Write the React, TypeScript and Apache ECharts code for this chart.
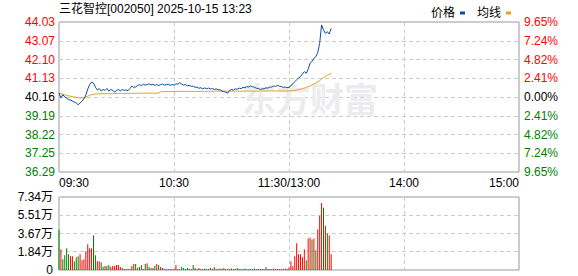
import React, { useEffect, useRef } from "react";
import * as echarts from "echarts";

const titleText = "三花智控[002050] 2025-10-15 13:23";
const seriesNames = ["价格", "均线"];
const timeLabels = ["09:30", "10:30", "11:30/13:00", "14:00", "15:00"];
const priceLabels = ["36.29", "37.25", "38.22", "39.19", "40.16", "41.13", "42.10", "43.07", "44.03"];
const pctLabels = ["9.65%", "7.24%", "4.82%", "2.41%", "0.00%", "2.41%", "4.82%", "7.24%", "9.65%"];
const volLabels = ["0", "1.84万", "3.67万", "5.51万", "7.34万"];
const priceMin = 36.29;
const priceMax = 44.03;
const volMax = 7.34;
const totalMinutes = 240;

const price = [
  40.37, 40.11, 40.28, 40.16, 40.11, 40.01, 40.01, 39.95, 39.9, 39.85,
  39.76, 39.85, 39.95, 40.06, 40.26, 40.57, 40.8, 40.93, 40.88, 40.67,
  40.52, 40.6, 40.47, 40.55, 40.5, 40.6, 40.47, 40.55, 40.5, 40.42,
  40.5, 40.55, 40.48, 40.55, 40.5, 40.53, 40.48, 40.6, 40.72, 40.66,
  40.68, 40.75, 40.8, 40.74, 40.82, 40.77, 40.8, 40.84, 40.78, 40.82,
  40.76, 40.8, 40.75, 40.8, 40.83, 40.77, 40.8, 40.82, 40.76, 40.8,
  40.78, 40.84, 40.82, 40.9, 40.83, 40.77, 40.8, 40.74, 40.76, 40.71,
  40.72, 40.66, 40.67, 40.61, 40.64, 40.58, 40.63, 40.59, 40.62, 40.57,
  40.6, 40.55, 40.58, 40.53, 40.54, 40.47, 40.44, 40.4, 40.36, 40.5,
  40.55, 40.52, 40.58, 40.56, 40.62, 40.59, 40.66, 40.64, 40.7, 40.68,
  40.73, 40.69, 40.66, 40.61, 40.6, 40.55, 40.58, 40.59, 40.63, 40.62,
  40.68, 40.67, 40.73, 40.71, 40.76, 40.72, 40.7, 40.65, 40.68, 40.64,
  40.66, 40.73, 40.85, 40.95, 41.05, 41.15, 41.21, 41.35, 41.47, 41.38,
  41.6, 41.9, 42.0, 42.16, 42.24, 42.45, 42.93, 43.88, 43.62, 43.45,
  43.53, 43.41, 43.7,
];

const avgPrice = [
  40.37, 40.33, 40.3, 40.27, 40.25, 40.22, 40.2, 40.18, 40.16, 40.14,
  40.12, 40.11, 40.11, 40.12, 40.15, 40.2, 40.25, 40.28, 40.3, 40.31,
  40.32, 40.32, 40.33, 40.33, 40.33, 40.33, 40.33, 40.34, 40.34, 40.34,
  40.34, 40.34, 40.34, 40.34, 40.35, 40.35, 40.35, 40.35, 40.35, 40.35,
  40.35, 40.35, 40.36, 40.36, 40.36, 40.36, 40.36, 40.36, 40.36, 40.36,
  40.36, 40.36, 40.37, 40.42, 40.44, 40.44, 40.44, 40.44, 40.44, 40.44,
  40.44, 40.44, 40.45, 40.45, 40.45, 40.45, 40.45, 40.45, 40.45, 40.45,
  40.45, 40.45, 40.45, 40.45, 40.45, 40.45, 40.45, 40.45, 40.45, 40.45,
  40.46, 40.46, 40.46, 40.46, 40.46, 40.46, 40.46, 40.46, 40.46, 40.46,
  40.46, 40.46, 40.46, 40.46, 40.46, 40.46, 40.46, 40.46, 40.46, 40.46,
  40.46, 40.46, 40.46, 40.46, 40.46, 40.46, 40.47, 40.47, 40.47, 40.47,
  40.47, 40.47, 40.47, 40.47, 40.47, 40.47, 40.47, 40.47, 40.47, 40.47,
  40.47, 40.48, 40.49, 40.5, 40.52, 40.54, 40.56, 40.59, 40.62, 40.65,
  40.69, 40.73, 40.78, 40.83, 40.88, 40.94, 41.01, 41.09, 41.16, 41.22,
  41.28, 41.33, 41.38,
];

// volume in 万 (10k lots)
const volume = [
  4.07, 2.08, 1.09, 1.49, 2.18, 1.59, 1.39, 1.39, 0.89, 1.29,
  1.39, 1.59, 0.99, 1.09, 1.88, 2.58, 2.18, 2.18, 3.47, 1.49,
  0.89, 0.89, 0.79, 0.33, 0.4, 0.4, 0.5, 0.33, 0.4, 0.4,
  0.5, 0.5, 0.3, 0.2, 0.1, 0.1, 0.1, 0.1, 0.4, 0.6,
  0.6, 0.2, 0.3, 0.5, 0.1, 0.6, 0.69, 0.3, 0.2, 0.2,
  0.4, 0.6, 0.5, 0.3, 0.2, 0.1, 0.1, 0.1, 0.1, 0.1,
  0.1, 0.5, 0.1, 0.1, 0.3, 0.2, 0.1, 0.2, 0.1, 0.1,
  0.5, 0.2, 0.1, 0.2, 0.1,
  0.1, 0.15, 0.1, 0.1, 0.2, 0.1, 0.3, 0.1, 0.1, 0.15,
  0.1, 0.2, 0.1, 0.1, 0.1, 0.15, 0.1, 0.1, 0.2, 0.1,
  0.1, 0.1, 0.15, 0.1, 0.1, 0.1, 0.1, 0.15, 0.1, 0.1,
  0.1, 0.1, 0.1, 0.3, 0.1, 0.1, 0.1, 0.15, 0.1, 0.1,
  0.1, 0.1, 0.1, 0.15, 0.1,
  0.26, 0.89, 0.4, 1.39, 2.68, 1.59, 1.59, 1.29, 2.08, 0.99,
  3.17, 3.27, 3.07, 3.17, 1.98, 4.07, 5.45, 6.74, 6.25, 4.46,
  3.67, 3.47, 1.59,
];

// 1 = up (red), -1 = down (green)
const volDir = [
  -1, 1, -1, -1, -1, -1, 1, 1, -1, -1,
  -1, 1, 1, 1, 1, 1, 1, 1, -1, -1,
  1, 1, -1, -1, 1, -1, -1, 1, 1, 1,
  1, 1, 1, -1, 1, 1, 1, 1, 1, 1,
  -1, -1, 1, -1, 1, -1, 1, -1, -1, 1,
  -1, 1, -1, 1, 1, -1, -1, 1, -1, -1,
  1, 1, 1, -1, -1, -1, 1, -1, -1, 1,
  -1, -1, -1, 1, 1,
  1, -1, 1, -1, -1, 1, 1, -1, 1, -1,
  -1, 1, -1, 1, 1, -1, -1, 1, -1, 1,
  1, -1, -1, 1, -1, 1, 1, -1, 1, -1,
  -1, 1, 1, -1, 1, 1, -1, 1, -1, -1,
  1, -1, 1, 1, -1,
  1, 1, 1, 1, 1, 1, 1, 1, 1, -1,
  1, 1, -1, 1, -1, 1, 1, 1, -1, 1,
  -1, 1, 1,
];

const FONT = "'Liberation Sans', Arial, 'Noto Sans CJK SC', sans-serif";
const RED = "#ff0000";
const GREEN = "#008000";
const BLACK = "#000000";
const PRICE_COLOR = "#0b4ea2";
const AVG_COLOR = "#e3a21a";
const GRID_LINE = "#cccccc";
const BORDER = "#999999";

const richCls = (i: number) => (i > 4 ? "up" : i < 4 ? "down" : "flat");
const rich = {
  up: { color: RED, fontSize: 12, fontFamily: FONT },
  down: { color: GREEN, fontSize: 12, fontFamily: FONT },
  flat: { color: BLACK, fontSize: 12, fontFamily: FONT },
};

function buildOption(): any {
  const dashed = { show: true, lineStyle: { color: GRID_LINE, type: [4, 3], width: 1 } };
  const xBase = {
    type: "value",
    min: 0,
    max: totalMinutes,
    interval: 60,
    axisLine: { show: false },
    axisTick: { show: false },
    splitLine: dashed,
  };
  return {
    animation: false,
    textStyle: { fontFamily: FONT },
    legend: {
      data: seriesNames,
      right: 62,
      top: 2,
      align: "right",
      icon: "rect",
      itemWidth: 5,
      itemHeight: 3,
      itemGap: 12,
      textStyle: { fontSize: 12, color: BLACK, fontFamily: FONT },
    },
    graphic: [
      {
        type: "text",
        left: 59,
        top: 3,
        z: 10,
        style: { text: titleText, fontSize: 12, fill: BLACK, fontFamily: FONT },
      },
      {
        type: "text",
        x: 310,
        y: 97,
        z: 1,
        style: {
          text: "东方财富",
          fontSize: 34,
          fontWeight: "bold",
          fill: "#ececef",
          align: "center",
          verticalAlign: "middle",
          fontFamily: "'Noto Sans CJK SC', sans-serif",
        },
      },
    ],
    grid: [
      { left: 59, top: 22, width: 460, height: 150, show: true, borderColor: BORDER, borderWidth: 1, backgroundColor: "transparent" },
      { left: 59, top: 197, width: 460, height: 73, show: true, borderColor: BORDER, borderWidth: 1, backgroundColor: "transparent" },
    ],
    xAxis: [
      {
        ...xBase,
        gridIndex: 0,
        axisLabel: {
          show: true,
          margin: 5,
          fontSize: 12,
          color: BLACK,
          fontFamily: FONT,
          alignMinLabel: "left",
          alignMaxLabel: "right",
          formatter: (v: number) => timeLabels[Math.round(v / 60)] ?? "",
        },
      },
      { ...xBase, gridIndex: 1, axisLabel: { show: false } },
    ],
    yAxis: [
      {
        type: "value",
        gridIndex: 0,
        position: "left",
        min: 0,
        max: 8,
        interval: 1,
        axisLine: { show: false },
        axisTick: { show: false },
        splitLine: dashed,
        axisLabel: {
          margin: 4,
          formatter: (v: number) => `{${richCls(v)}|${priceLabels[v]}}`,
          rich,
        },
      },
      {
        type: "value",
        gridIndex: 0,
        position: "right",
        min: 0,
        max: 8,
        interval: 1,
        axisLine: { show: false },
        axisTick: { show: false },
        splitLine: { show: false },
        axisLabel: {
          margin: 5,
          formatter: (v: number) => `{${richCls(v)}|${pctLabels[v]}}`,
          rich,
        },
      },
      {
        type: "value",
        gridIndex: 0,
        min: priceMin,
        max: priceMax,
        show: false,
        splitLine: { show: false },
      },
      {
        type: "value",
        gridIndex: 1,
        position: "left",
        min: 0,
        max: 4,
        interval: 1,
        axisLine: { show: false },
        axisTick: { show: false },
        splitLine: dashed,
        axisLabel: {
          margin: 6,
          fontSize: 12,
          color: BLACK,
          fontFamily: FONT,
          formatter: (v: number) => volLabels[v] ?? "",
        },
      },
      {
        type: "value",
        gridIndex: 1,
        min: 0,
        max: volMax,
        show: false,
        splitLine: { show: false },
      },
    ],
    series: [
      {
        name: seriesNames[0],
        type: "line",
        xAxisIndex: 0,
        yAxisIndex: 2,
        symbol: "none",
        z: 5,
        itemStyle: { color: PRICE_COLOR },
        lineStyle: { color: PRICE_COLOR, width: 1 },
        data: price.map((p, i) => [i, p]),
      },
      {
        name: seriesNames[1],
        type: "line",
        xAxisIndex: 0,
        yAxisIndex: 2,
        symbol: "none",
        z: 4,
        itemStyle: { color: AVG_COLOR },
        lineStyle: { color: AVG_COLOR, width: 1 },
        data: avgPrice.map((p, i) => [i, p]),
      },
      {
        name: "成交量",
        type: "bar",
        xAxisIndex: 1,
        yAxisIndex: 4,
        barWidth: 1,
        data: volume.map((v, i) => ({
          value: [i, v],
          itemStyle: { color: volDir[i] > 0 ? RED : GREEN },
        })),
      },
    ],
  };
}

export default function App() {
  const ref = useRef<HTMLDivElement>(null);
  useEffect(() => {
    if (!ref.current) return;
    const chart = echarts.init(ref.current, null, { renderer: "svg" });
    chart.setOption(buildOption());
    return () => chart.dispose();
  }, []);
  return (
    <div
      ref={ref}
      style={{ position: "fixed", left: 0, top: 0, width: 578, height: 276, background: "#ffffff" }}
    />
  );
}
